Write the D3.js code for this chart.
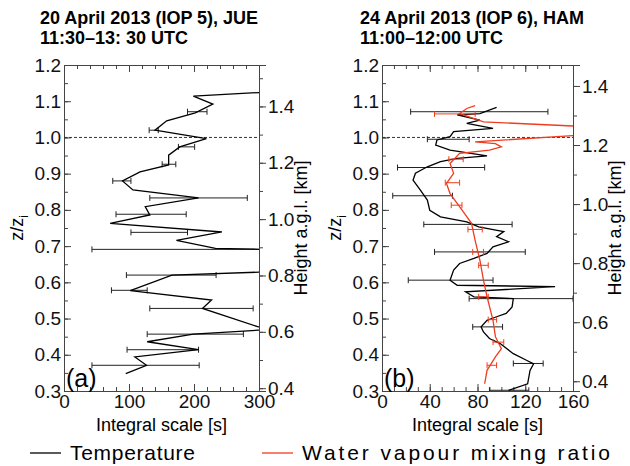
<!DOCTYPE html>
<html><head><meta charset="utf-8">
<script src="https://cdn.jsdelivr.net/npm/d3@7"></script>
<style>body{margin:0;background:#fff}text{font-family:"Liberation Sans",Arial,sans-serif}</style>
</head><body><div id="chart"></div>
<script>
// panel (a) temperature profile [integral scale s, z/zi]
var jueLine = [[95,0.348],[127,0.371],[109,0.394],[207,0.414],[128,0.436],[199,0.457],[299,0.468],[330,0.472],[299,0.477],
  [213,0.528],[227,0.551],[102,0.577],[166,0.62],[330,0.63],[330,0.69],[233,0.694],[173,0.716],[243,0.739],[71,0.763],
  [132,0.786],[125,0.809],[207,0.833],[106,0.855],[90,0.88],[117,0.905],[161,0.924],[161,0.951],[178,0.974],[219,0.997],
  [140,1.02],[158,1.046],[202,1.068],[229,1.092],[199,1.114],[300,1.124]];
var jueErr = [[1.071,190,220],[1.02,131,145],[0.974,176,201],[0.926,151,172],[0.88,75,103],[0.833,132,282],[0.788,80,188],
  [0.738,103,190],[0.691,43,306],[0.62,96,234],[0.578,73,128],[0.528,132,291],[0.457,128,276],[0.414,97,207],[0.371,43,208]];
// panel (b)
var hamTemp = [[106,0.302],[122,0.32],[124,0.357],[127,0.375],[121,0.385],[110,0.403],[99,0.431],[90,0.445],[85,0.463],
  [83,0.477],[88,0.495],[96,0.505],[104,0.514],[109,0.532],[110,0.555],[77,0.56],[70,0.574],[145,0.588],[63,0.592],
  [57,0.606],[60,0.634],[65,0.652],[77,0.666],[88,0.68],[93,0.698],[106,0.712],[96,0.726],[102,0.74],[81,0.753],
  [71,0.767],[49,0.781],[40,0.799],[38,0.827],[32,0.855],[26,0.882],[28,0.901],[38,0.919],[49,0.933],[63,0.942],
  [88,0.949],[57,0.965],[45,0.979],[46,0.993],[57,1.002],[60,1.016],[93,1.025],[71,1.039],[82,1.048],[63,1.062],
  [82,1.066],[96,1.083]];
var hamTempErr = [[0.302,90,123],[0.376,110,135],[0.477,76,101],[0.555,73,160],[0.606,22,93],[0.684,44,120],[0.76,35,109],
  [0.839,9,59],[0.917,13,86],[0.995,38,73],[1.071,24,139]];
var hamWv = [[86,0.32],[88,0.357],[95,0.394],[100,0.417],[95,0.45],[93,0.495],[88,0.56],[85,0.606],[82,0.661],[78,0.716],
  [75,0.763],[65,0.809],[57,0.845],[54,0.873],[60,0.901],[57,0.928],[65,0.956],[90,0.965],[100,0.974],[95,0.983],
  [78,0.988],[170,1.007],[170,1.03],[85,1.043],[65,1.066],[71,1.08],[78,1.088]];
var hamWvErr = [[0.371,88,96],[0.435,93,102],[0.497,89,96],[0.56,81,89],[0.647,81,89],[0.684,76,85],[0.746,72,84],
  [0.813,58,67],[0.875,53,65],[0.94,56,68],[1.065,44,78]];

var W = 630, H = 466;
var svg = d3.select("#chart").append("svg").attr("width", W).attr("height", H);
var y = d3.scaleLinear().domain([0.3, 1.2]).range([391, 65]);
var axisCol = "#444";

function panel(o) {
  var x = d3.scaleLinear().domain(o.xdom).range([o.x0, o.x1]);
  var yr = d3.scaleLinear().domain(o.hdom).range([391, 65]);
  var g = svg.append("g");
  var cid = "clip" + o.id;
  svg.append("clipPath").attr("id", cid).append("rect")
    .attr("x", o.x0).attr("y", 65).attr("width", o.x1 - o.x0).attr("height", 326);
  function ax(a, t) {
    var s = g.append("g").attr("transform", t).call(a);
    s.selectAll("path,line").attr("stroke", axisCol);
    s.selectAll("text").style("font-size", "19px").attr("fill", "#111");
    return s;
  }
  // minor ticks
  ax(d3.axisBottom(x).ticks(o.minor).tickSize(-4).tickFormat(""), "translate(0,391)");
  ax(d3.axisTop(x).ticks(o.minor).tickSize(-4).tickFormat(""), "translate(0,65)");
  ax(d3.axisBottom(x).tickValues(o.xticks).tickSize(-7).tickPadding(3), "translate(0,391)");
  ax(d3.axisTop(x).tickValues(o.xticks).tickSize(-7).tickFormat(""), "translate(0,65)");
  ax(d3.axisLeft(y).ticks(18).tickSize(-4).tickFormat(""), "translate(" + o.x0 + ",0)");
  ax(d3.axisLeft(y).ticks(9).tickSize(-7).tickFormat(d3.format(".1f")).tickPadding(3), "translate(" + o.x0 + ",0)");
  ax(d3.axisRight(yr).ticks(10).tickSize(4).tickFormat(""), "translate(" + o.x1 + ",0)");
  ax(d3.axisRight(yr).tickValues([0.4, 0.6, 0.8, 1.0, 1.2, 1.4]).tickSize(7).tickFormat(d3.format(".1f")).tickPadding(2),
    "translate(" + o.x1 + ",0)");

  g.append("line").attr("x1", o.x0).attr("x2", o.x1).attr("y1", y(1)).attr("y2", y(1))
    .attr("stroke", "#333").attr("stroke-dasharray", "3,2").attr("stroke-width", 1);

  var line = d3.line().x(function(d) { return x(d[0]); }).y(function(d) { return y(d[1]); });
  o.series.forEach(function(s) {
    var sg = g.append("g").attr("clip-path", "url(#" + cid + ")");
    sg.selectAll(".e").data(s.err).enter().append("path")
      .attr("d", function(d) {
        var yy = y(d[0]), a = x(d[1]), b = x(d[2]);
        return "M" + a + "," + yy + "H" + b + "M" + a + "," + (yy - 3) + "V" + (yy + 3) + "M" + b + "," + (yy - 3) + "V" + (yy + 3);
      })
      .attr("stroke", s.ecol).attr("stroke-width", 1).attr("fill", "none");
    sg.append("path").datum(s.line).attr("d", line)
      .attr("fill", "none").attr("stroke", s.col).attr("stroke-width", 1.3);
  });

  svg.append("text").attr("x", o.x0 + 2).attr("y", 387).text(o.tag).style("font-size", "25px");
  svg.append("text").attr("x", (o.x0 + o.x1) / 2).attr("y", 431).attr("text-anchor", "middle")
    .text("Integral scale [s]").style("font-size", "18px");
  svg.append("text").attr("transform", "translate(" + (o.x1 + 48) + ",228) rotate(-90)")
    .attr("text-anchor", "middle").text("Height a.g.l. [km]").style("font-size", "18px");
  var z = svg.append("text").attr("transform", "translate(" + (o.x0 - 41) + ",228) rotate(-90)")
    .attr("text-anchor", "middle").style("font-size", "18px");
  z.append("tspan").text("z/z");
  z.append("tspan").attr("dy", 5).style("font-size", "12px").text("i");
  var t = svg.append("text").attr("x", o.tx).style("font-size", "18px").style("font-weight", "bold");
  t.append("tspan").attr("x", o.tx).attr("y", 24).text(o.title[0]);
  t.append("tspan").attr("x", o.tx).attr("y", 44).text(o.title[1]);
}

panel({id: "a", x0: 64, x1: 259, xdom: [0, 300], xticks: [0, 100, 200, 300], minor: 12, hdom: [0.39, 1.547],
  tag: "(a)", tx: 40, title: ["20 April 2013 (IOP 5), JUE", "11:30\u201313: 30 UTC"],
  series: [{line: jueLine, err: jueErr, col: "#000", ecol: "#222"}]});
panel({id: "b", x0: 382, x1: 573, xdom: [0, 160], xticks: [0, 40, 80, 120, 160], minor: 16, hdom: [0.367, 1.471],
  tag: "(b)", tx: 360, title: ["24 April 2013 (IOP 6), HAM", "11:00\u201312:00 UTC"],
  series: [{line: hamTemp, err: hamTempErr, col: "#000", ecol: "#222"},
           {line: hamWv, err: hamWvErr, col: "#f03c1e", ecol: "#f03c1e"}]});

// legend
var leg = [["Temperature", "#000", 30, 125], ["Water vapour mixing ratio", "#f03c1e", 262, 308]];
leg.forEach(function(l) {
  svg.append("line").attr("x1", l[2]).attr("x2", l[2] + 31).attr("y1", 453).attr("y2", 453)
    .attr("stroke", l[1]).attr("stroke-width", 1.3);
  svg.append("text").attr("x", l[2] + 40).attr("y", 460).attr("textLength", l[3])
    .text(l[0]).style("font-size", "21px");
});
</script></body></html>
